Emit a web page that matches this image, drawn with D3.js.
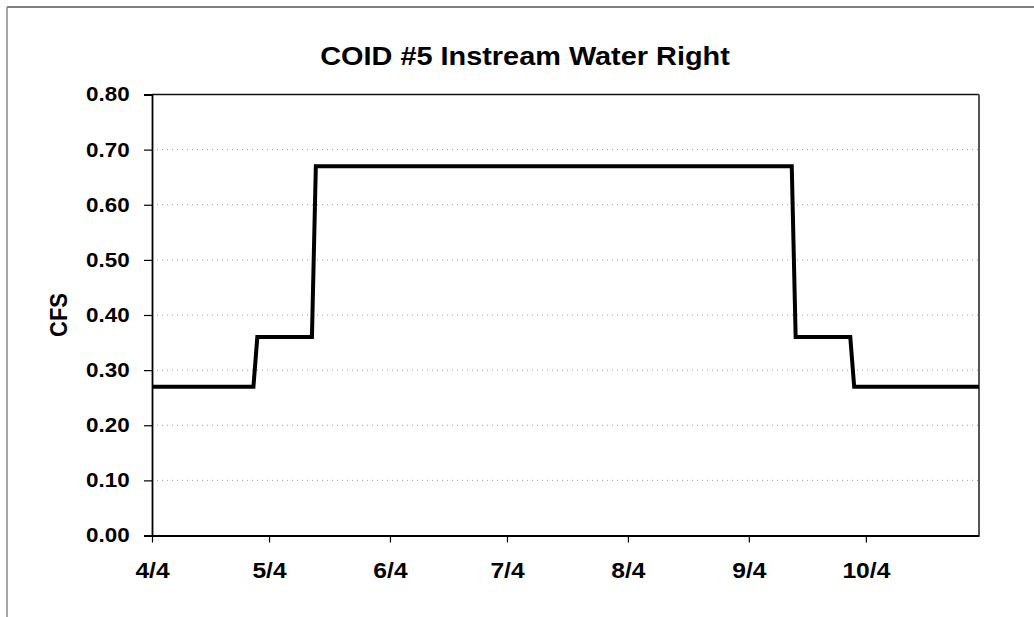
<!DOCTYPE html>
<html>
<head>
<meta charset="utf-8">
<script src="https://cdn.jsdelivr.net/npm/d3@7"></script>
<style>
  body { margin: 0; background: #fff; }
  svg { display: block; font-family: "Liberation Sans", Arial, sans-serif; }
</style>
</head>
<body>
<div id="chart"></div>
<script>
// step breakpoints of the flow right (two points per step so the line jumps over one day)
const stepDates = ["2005-04-04", "2005-04-30", "2005-05-01", "2005-05-15", "2005-05-16",
                   "2005-09-15", "2005-09-16", "2005-09-30", "2005-10-01", "2005-11-02"];
const cfsValues = [0.27, 0.27, 0.36, 0.36, 0.67, 0.67, 0.36, 0.36, 0.27, 0.27];

const xTickDates = ["2005-04-04", "2005-05-04", "2005-06-04", "2005-07-04",
                    "2005-08-04", "2005-09-04", "2005-10-04"];
const xTickLabels = ["4/4", "5/4", "6/4", "7/4", "8/4", "9/4", "10/4"];
const yTicks = [0, 0.1, 0.2, 0.3, 0.4, 0.5, 0.6, 0.7, 0.8];

const width = 1034, height = 617;
const plot = { left: 152, right: 979, top: 94.5, bottom: 535.5 };
const stretch = 1.12; // the glyphs in the picture are a bit wider than Arial

const parse = d3.timeParse("%Y-%m-%d");
const data = stepDates.map((d, i) => ({ date: parse(d), cfs: cfsValues[i] }));

const svg = d3.select("#chart").append("svg")
  .attr("width", width)
  .attr("height", height);

svg.append("rect").attr("width", width).attr("height", height).attr("fill", "#fff");

const x = d3.scaleTime()
  .domain([parse(stepDates[0]), parse(stepDates[stepDates.length - 1])])
  .range([plot.left, plot.right]);

const y = d3.scaleLinear()
  .domain([0, 0.8])
  .range([plot.bottom, plot.top]);

// outer frame (only the top and left edges show)
svg.append("line")
  .attr("x1", 7).attr("x2", width).attr("y1", 7).attr("y2", 7)
  .attr("stroke", "#555").attr("stroke-width", 1.5);
svg.append("line")
  .attr("x1", 7).attr("x2", 7).attr("y1", 7).attr("y2", height)
  .attr("stroke", "#888").attr("stroke-width", 1.5);

// dotted gridlines
svg.append("g")
  .selectAll("line")
  .data(yTicks.slice(1, -1))
  .join("line")
  .attr("x1", plot.left).attr("x2", plot.right)
  .attr("y1", d => y(d)).attr("y2", d => y(d))
  .attr("stroke", "#9a9a9a")
  .attr("stroke-width", 1)
  .attr("stroke-dasharray", "1,4");

// plot border: top black, right grey
svg.append("line")
  .attr("x1", plot.left).attr("x2", plot.right)
  .attr("y1", plot.top).attr("y2", plot.top)
  .attr("stroke", "#111").attr("stroke-width", 1.5);
svg.append("line")
  .attr("x1", plot.right).attr("x2", plot.right)
  .attr("y1", plot.top).attr("y2", plot.bottom)
  .attr("stroke", "#555").attr("stroke-width", 2);

// y axis
const yAxis = svg.append("g")
  .attr("transform", `translate(${plot.left},0)`)
  .call(d3.axisLeft(y).tickValues(yTicks).tickFormat(d3.format(".2f")).tickSize(8).tickPadding(12));
yAxis.select(".domain").attr("stroke", "#000").attr("stroke-width", 1.8);
yAxis.selectAll(".tick line").attr("stroke", "#000").attr("stroke-width", 1.2);
yAxis.selectAll("text")
  .attr("fill", "#000")
  .style("font-size", "20px")
  .style("font-weight", "bold")
  .attr("transform", `scale(${stretch},1)`);

// x axis
const xAxis = svg.append("g")
  .attr("transform", `translate(0,${plot.bottom})`)
  .call(d3.axisBottom(x)
    .tickValues(xTickDates.map(parse))
    .tickFormat((d, i) => xTickLabels[i])
    .tickSize(7).tickSizeOuter(0).tickPadding(0));
xAxis.select(".domain").attr("stroke", "#000").attr("stroke-width", 1.8);
xAxis.selectAll(".tick line").attr("stroke", "#000").attr("stroke-width", 1.2);
xAxis.selectAll("text")
  .attr("fill", "#000")
  .attr("dy", null)
  .attr("y", 42.5)
  .style("font-size", "22px")
  .style("font-weight", "bold")
  .attr("transform", `scale(${stretch},1)`)
  .attr("x", function () {
    // keep the centre on the tick while the glyphs are stretched
    return 0;
  });

// the flow line
const line = d3.line()
  .x(d => x(d.date))
  .y(d => y(d.cfs));

svg.append("path")
  .datum(data)
  .attr("d", line)
  .attr("fill", "none")
  .attr("stroke", "#000")
  .attr("stroke-width", 4)
  .attr("stroke-linejoin", "miter");

// title
svg.append("text")
  .attr("transform", `translate(525,65) scale(1.09,1)`)
  .attr("text-anchor", "middle")
  .style("font-size", "26.5px")
  .style("font-weight", "bold")
  .text("COID #5 Instream Water Right");

// y axis title
svg.append("text")
  .attr("transform", `translate(67,315) scale(${stretch},1) rotate(-90)`)
  .attr("text-anchor", "middle")
  .style("font-size", "22px")
  .style("font-weight", "bold")
  .text("CFS");
</script>
</body>
</html>
